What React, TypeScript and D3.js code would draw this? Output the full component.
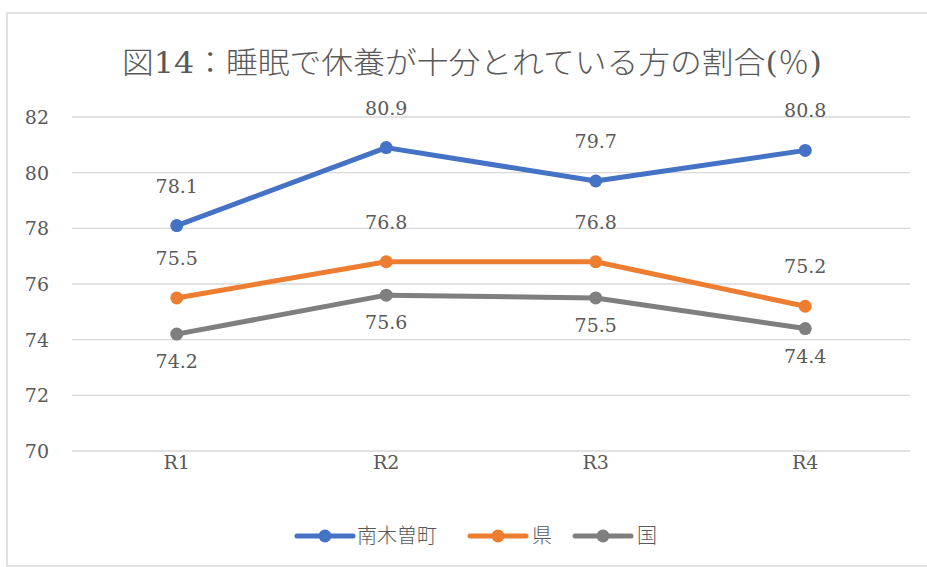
import React from "react";
import * as d3 from "d3";

const categories = ["R1", "R2", "R3", "R4"];
const seriesNames = ["南木曽町", "県", "国"];
const town = [78.1, 80.9, 79.7, 80.8];
const prefecture = [75.5, 76.8, 76.8, 75.2];
const nation = [74.2, 75.6, 75.5, 74.4];
const yTicks = [70, 72, 74, 76, 78, 80, 82];
const colors = ["#4472C4", "#ED7D31", "#7F7F7F"];
const labelSide = ["above", "above", "below"];

const W = 927;
const H = 567;
const plot = { left: 72, right: 910, top: 117, bottom: 451 };
const FONT = "'DejaVu Serif', 'Noto Sans CJK JP', serif";
const TEXT = "#595959";

export default function App() {
  const x = d3
    .scaleBand<string>()
    .domain(categories)
    .range([plot.left, plot.right]);
  const y = d3.scaleLinear().domain([70, 82]).range([plot.bottom, plot.top]);
  const cx = (c: string) => (x(c) as number) + x.bandwidth() / 2;

  const series = [town, prefecture, nation];
  const line = d3
    .line<number>()
    .x((_, i) => cx(categories[i]))
    .y((v) => y(v));

  const legend = [
    { x0: 297, tx: 357 },
    { x0: 470, tx: 532 },
    { x0: 575, tx: 637 },
  ];

  return (
    <svg
      width={W}
      height={H}
      style={{ position: "absolute", left: 0, top: 0, background: "#fff" }}
      fontFamily={FONT}
    >
      <rect x={7} y={13} width={940} height={553} fill="#fff" stroke="#d9d9d9" strokeWidth={1.5} />
      <text
        x={472}
        y={73}
        textAnchor="middle"
        fontSize={30}
        fontWeight={300}
        fill={TEXT}
        textLength={700}
        lengthAdjust="spacingAndGlyphs"
      >
        図14：睡眠で休養が十分とれている方の割合(％)
      </text>

      {yTicks.map((t) => (
        <g key={t}>
          <line x1={plot.left} x2={plot.right} y1={y(t)} y2={y(t)} stroke="#d9d9d9" strokeWidth={1.3} />
          <text x={49} y={y(t) + 7} textAnchor="end" fontSize={19} fill={TEXT}>
            {t}
          </text>
        </g>
      ))}

      {categories.map((c) => (
        <text key={c} x={cx(c)} y={469} textAnchor="middle" fontSize={19} fill={TEXT}>
          {c}
        </text>
      ))}

      {series.map((s, si) => (
        <g key={si}>
          <path d={line(s) || ""} fill="none" stroke={colors[si]} strokeWidth={5} strokeLinejoin="round" strokeLinecap="round" />
          {s.map((v, i) => (
            <circle key={i} cx={cx(categories[i])} cy={y(v)} r={6.5} fill={colors[si]} />
          ))}
        </g>
      ))}

      {series.map((s, si) =>
        s.map((v, i) => (
          <text
            key={`${si}-${i}`}
            x={cx(categories[i])}
            y={labelSide[si] === "above" ? y(v) - 33 : y(v) + 34}
            textAnchor="middle"
            fontSize={19}
            fill={TEXT}
          >
            {v.toFixed(1)}
          </text>
        ))
      )}

      {seriesNames.map((n, i) => (
        <g key={n}>
          <line x1={legend[i].x0} x2={legend[i].x0 + 56} y1={536} y2={536} stroke={colors[i]} strokeWidth={5} strokeLinecap="round" />
          <circle cx={legend[i].x0 + 28} cy={536} r={6.5} fill={colors[i]} />
          <text x={legend[i].tx} y={543} fontSize={20} fontWeight={300} fill={TEXT}>
            {n}
          </text>
        </g>
      ))}
    </svg>
  );
}
